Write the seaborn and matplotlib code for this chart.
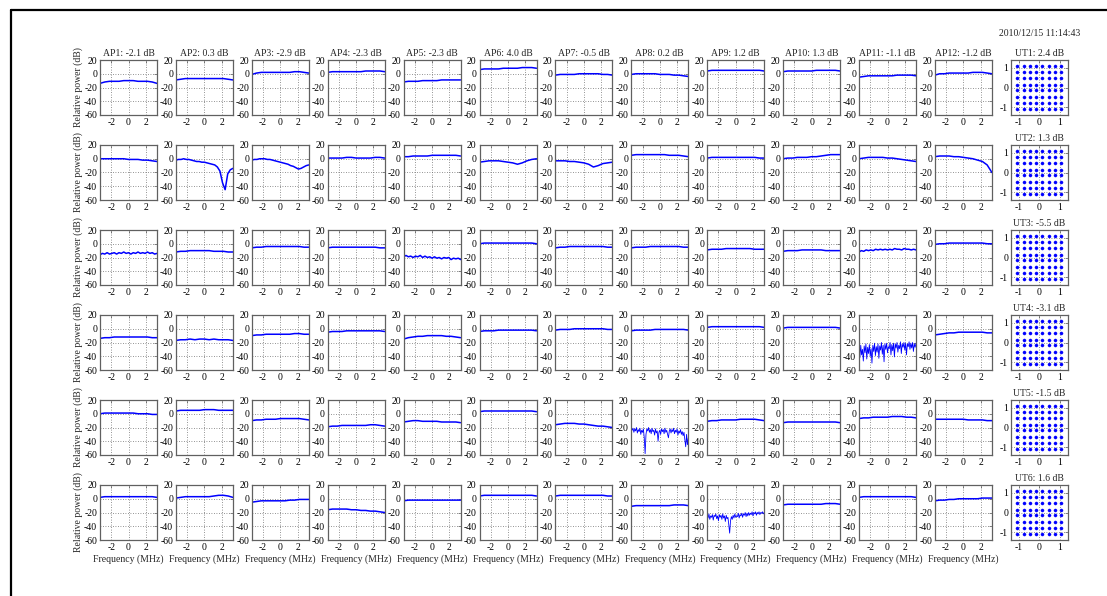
import numpy as np
import matplotlib
matplotlib.use("Agg")
import matplotlib.pyplot as plt
import seaborn as sns
from matplotlib.lines import Line2D

sns.set_theme(style="white")
plt.rcParams['font.family'] = ['Liberation Serif', 'DejaVu Serif']
plt.rcParams['axes.unicode_minus'] = False

# gains shown in the titles
ap_gain_db = [-2.1, 0.3, -2.9, -2.3, -2.3, 4.0, -0.5, 0.2, 1.2, 1.3, -1.1, -1.2]
ut_gain_db = [2.4, 1.3, -5.5, -3.1, -1.5, 1.6]
timestamp = "2010/12/15 11:14:43"

# 64-QAM levels (normalised)
qam_levels = [-1.08, -0.77, -0.46, -0.15, 0.15, 0.46, 0.77, 1.08]

# relative power (dB) per AP, one list per UT row
row1 = [
    [-14, -12, -11, -11, -11, -10, -10, -10, -11, -11, -11, -12, -14],
    [-9, -8, -7, -7, -7, -7, -7, -7, -7, -7, -7, -8, -9],
    [-1, 1, 2, 2, 2, 2, 2, 2, 2, 3, 3, 2, 1],
    [2, 3, 3, 3, 3, 3, 3, 3, 4, 4, 4, 4, 3],
    [-12, -11, -11, -11, -10, -10, -10, -10, -9, -9, -9, -9, -9],
    [6, 7, 7, 7, 7, 8, 8, 8, 8, 9, 9, 9, 8],
    [-2, -1, -1, -1, -1, 0, 0, 0, 0, 0, -1, -1, -2],
    [-1, 0, 0, 0, 0, 0, -1, -1, -1, -2, -2, -3, -4],
    [4, 5, 5, 5, 5, 5, 5, 5, 5, 5, 5, 5, 4],
    [3, 4, 4, 4, 4, 4, 4, 5, 5, 5, 5, 5, 4],
    [-5, -4, -3, -3, -3, -3, -3, -3, -2, -2, -2, -2, -3],
    [-2, 0, 0, 1, 1, 1, 1, 1, 2, 2, 2, 1, 0],
]
row2 = [
    [0, 0, 0, 0, 0, 0, -1, -1, -1, -2, -2, -3, -4],
    [-2, -1, -1, 0, -1, -1, -2, -3, -4, -4, -5, -5, -6, -7, -8, -9, -12, -18, -35, -45, -22, -16, -14],
    [-2, -1, -1, 0, 0, 0, -1, -1, -2, -3, -4, -5, -6, -7, -8, -10, -11, -13, -15, -14, -12, -10, -9],
    [1, 1, 1, 1, 2, 2, 1, 1, 1, 1, 2, 2, 1],
    [3, 3, 4, 4, 4, 4, 5, 5, 5, 5, 5, 5, 4],
    [-5, -4, -3, -3, -3, -4, -5, -6, -8, -6, -3, -1, 0],
    [-3, -3, -3, -4, -4, -5, -6, -8, -12, -10, -7, -6, -5],
    [5, 6, 6, 6, 6, 6, 6, 6, 5, 5, 5, 4, 3],
    [1, 2, 2, 2, 2, 2, 2, 2, 2, 2, 2, 1, 1],
    [0, 1, 1, 2, 2, 2, 3, 3, 4, 5, 6, 6, 6],
    [0, 1, 2, 2, 2, 2, 1, 1, 0, -1, -2, -3, -4],
    [3, 4, 4, 4, 3, 3, 2, 1, 0, -2, -4, -9, -20],
]
row3 = [
    [-16, -14, -15, -13, -15, -14, -13, -15, -13, -14, -12, -14, -13, -15, -13, -14, -12, -14, -13, -14, -12, -14, -13, -15, -14],
    [-12, -11, -11, -10, -10, -10, -10, -10, -11, -11, -11, -12, -12],
    [-6, -5, -5, -4, -4, -4, -4, -4, -4, -4, -4, -5, -5],
    [-6, -5, -5, -5, -5, -5, -5, -5, -5, -5, -5, -6, -6],
    [-19, -17, -19, -18, -20, -18, -19, -17, -20, -18, -20, -19, -21, -19, -21, -20, -22, -20, -21, -20, -23, -21, -22, -21, -23],
    [0, 1, 1, 1, 1, 1, 1, 1, 1, 1, 1, 1, 0],
    [-6, -5, -5, -4, -4, -4, -4, -4, -4, -4, -4, -5, -5],
    [-6, -5, -5, -5, -4, -4, -4, -4, -4, -4, -4, -5, -5],
    [-9, -8, -8, -8, -7, -7, -7, -7, -7, -7, -8, -8, -8],
    [-11, -10, -10, -10, -9, -9, -9, -9, -9, -10, -10, -10, -10],
    [-12, -10, -11, -9, -10, -9, -10, -8, -9, -8, -9, -8, -9, -8, -9, -7, -8, -8, -9, -7, -8, -8, -9, -8, -9],
    [-1, 0, 0, 1, 1, 1, 1, 1, 1, 1, 1, 0, 0],
]
row4 = [
    [-14, -13, -13, -12, -12, -12, -12, -12, -12, -12, -12, -13, -13],
    [-17, -16, -16, -15, -16, -15, -15, -16, -15, -16, -16, -16, -17],
    [-10, -9, -9, -8, -8, -8, -8, -8, -8, -7, -7, -8, -8],
    [-5, -4, -4, -4, -3, -3, -3, -3, -3, -3, -3, -3, -4],
    [-15, -13, -12, -11, -11, -10, -10, -10, -10, -11, -11, -12, -13],
    [-4, -3, -3, -3, -2, -2, -2, -2, -2, -2, -2, -2, -3],
    [-2, -1, -1, -1, 0, 0, 0, 0, 0, 0, 0, -1, -1],
    [-3, -2, -2, -2, -2, -1, -1, -1, -1, -1, -1, -1, -2],
    [2, 3, 3, 3, 3, 3, 3, 3, 3, 3, 3, 3, 2],
    [1, 2, 2, 2, 2, 2, 2, 2, 2, 2, 2, 2, 1],
    [-28, -42, -24, -38, -30, -47, -25, -35, -22, -44,
     -27, -36, -23, -40, -29, -50, -24, -33, -21, -39,
     -26, -34, -22, -43, -25, -31, -20, -37, -24, -48,
     -22, -30, -21, -35, -26, -29, -20, -38, -23, -32,
     -21, -41, -22, -28, -20, -34, -24, -29, -19, -36,
     -22, -27, -20, -31, -21, -38, -22, -26, -19, -30,
     -21, -28, -20, -33, -22, -27, -21],
    [-9, -8, -7, -6, -6, -5, -5, -5, -5, -5, -5, -6, -6],
]
row5 = [
    [0, 1, 1, 1, 1, 1, 1, 1, 0, 0, 0, -1, -1],
    [4, 5, 5, 5, 5, 5, 6, 6, 6, 5, 5, 5, 5],
    [-10, -9, -9, -8, -8, -8, -7, -7, -7, -7, -7, -8, -9],
    [-19, -18, -18, -17, -17, -17, -17, -17, -17, -16, -16, -17, -18],
    [-12, -11, -10, -10, -11, -11, -11, -11, -12, -12, -12, -12, -13],
    [3, 4, 4, 4, 4, 4, 4, 4, 4, 4, 4, 4, 3],
    [-16, -15, -14, -14, -14, -15, -15, -16, -17, -18, -18, -19, -20],
    [-20, -24, -21, -27, -22, -25, -20, -28, -23, -26,
     -21, -30, -24, -27, -22, -35, -58, -30, -22, -25,
     -20, -27, -23, -29, -21, -26, -24, -31, -22, -28,
     -25, -40, -27, -24, -30, -22, -26, -23, -29, -21,
     -27, -24, -30, -35, -25, -22, -28, -23, -26, -21,
     -29, -24, -27, -22, -31, -25, -28, -23, -30, -26,
     -32, -27, -38, -48, -30, -45, -35],
    [-11, -10, -10, -9, -9, -9, -9, -8, -8, -8, -8, -9, -10],
    [-13, -12, -12, -12, -12, -12, -12, -12, -12, -12, -12, -12, -13],
    [-7, -6, -6, -5, -5, -5, -5, -4, -4, -4, -5, -5, -6],
    [-8, -8, -8, -8, -8, -8, -8, -9, -9, -9, -9, -10, -10],
]
row6 = [
    [2, 3, 3, 3, 3, 3, 3, 3, 3, 3, 3, 3, 2],
    [1, 2, 3, 3, 3, 3, 3, 3, 4, 5, 5, 4, 2],
    [-5, -4, -3, -3, -3, -3, -3, -3, -2, -2, -1, -1, -1],
    [-16, -15, -15, -15, -15, -16, -16, -17, -17, -18, -18, -19, -20],
    [-3, -2, -2, -2, -2, -2, -2, -2, -2, -2, -2, -2, -2],
    [4, 5, 5, 5, 5, 5, 5, 5, 5, 5, 5, 5, 4],
    [4, 5, 5, 5, 5, 5, 5, 5, 5, 5, 5, 4, 4],
    [-11, -10, -10, -10, -10, -10, -10, -10, -10, -9, -9, -9, -10],
    [-24, -28, -22, -30, -25, -27, -23, -31, -24, -26,
     -22, -29, -25, -32, -23, -27, -24, -30, -22, -28,
     -25, -33, -24, -29, -27, -38, -50, -32, -26, -30,
     -24, -28, -22, -27, -25, -26, -21, -28, -23, -25,
     -21, -27, -22, -24, -20, -26, -21, -25, -20, -24,
     -21, -23, -19, -25, -20, -22, -19, -24, -20, -22,
     -19, -23, -20, -21, -19, -22, -20],
    [-9, -8, -8, -8, -8, -8, -8, -8, -8, -7, -7, -7, -8],
    [2, 3, 3, 3, 3, 3, 3, 3, 3, 3, 3, 3, 2],
    [-3, -2, -2, -1, -1, 0, 0, 0, 0, 0, 1, 1, 1],
]
rows = [row1, row2, row3, row4, row5, row6]

W, H = 1107, 596
fig = plt.figure(figsize=(W / 100, H / 100), dpi=100)

spine_col = '#606060'
grid_col = '#707070'


def style(ax):
    for s in ax.spines.values():
        s.set_color(spine_col)
        s.set_linewidth(0.9)
    ax.tick_params(direction='in', length=2, width=0.5, labelsize=7, pad=2,
                   top=True, right=True, colors=spine_col, labelcolor='black')
    ax.grid(True, linestyle=(0, (1, 2)), color=grid_col, linewidth=0.6)
    ax.set_axisbelow(True)


qi, qq = np.meshgrid(qam_levels, qam_levels)

for r in range(6):
    top = 60 + r * 85
    for c in range(13):
        left = 100 + c * 75.9
        ax = fig.add_axes([left / W, 1 - (top + 55) / H, 57 / W, 55 / H])
        style(ax)
        if c < 12:
            vals = rows[r][c]
            freq = np.linspace(-3.3, 3.3, len(vals))
            noisy = len(vals) > 30
            sns.lineplot(x=freq, y=vals, ax=ax, color='#0000ff',
                         linewidth=0.6 if noisy else 1.1, legend=False)
            ax.set_xlim(-3.3, 3.3)
            ax.set_ylim(-60, 20)
            ax.set_xticks([-2, 0, 2])
            ax.set_yticks([-60, -40, -20, 0, 20])
            if r == 0:
                ax.set_title(f"AP{c + 1}: {ap_gain_db[c]:.1f} dB", fontsize=7, pad=3)
            if c == 0:
                ax.set_ylabel("Relative power (dB)", fontsize=7, labelpad=1)
            else:
                ax.set_ylabel("")
            if r == 5:
                ax.set_xlabel("Frequency (MHz)", fontsize=7, labelpad=2)
            else:
                ax.set_xlabel("")
        else:
            sns.scatterplot(x=qi.ravel(), y=qq.ravel(), ax=ax, marker='o',
                            s=5, color='#0000ff', edgecolor='#0000ff',
                            linewidth=0.3, legend=False, zorder=3)
            ax.set_xlim(-1.4, 1.4)
            ax.set_ylim(-1.4, 1.4)
            ax.set_xticks([-1, 0, 1])
            ax.set_yticks([-1, 0, 1])
            ax.set_title(f"UT{r + 1}: {ut_gain_db[r]:.1f} dB", fontsize=7, pad=3)

fig.text(1040 / W, 1 - 33 / H, timestamp, ha='center', va='center', fontsize=7)

# window frame
fig.add_artist(Line2D([11 / W, 1], [1 - 10 / H, 1 - 10 / H], color='black',
                      linewidth=1.6, transform=fig.transFigure))
fig.add_artist(Line2D([11 / W, 11 / W], [0, 1 - 10 / H], color='black',
                      linewidth=1.6, transform=fig.transFigure))

fig.savefig("out.png", dpi=100)
